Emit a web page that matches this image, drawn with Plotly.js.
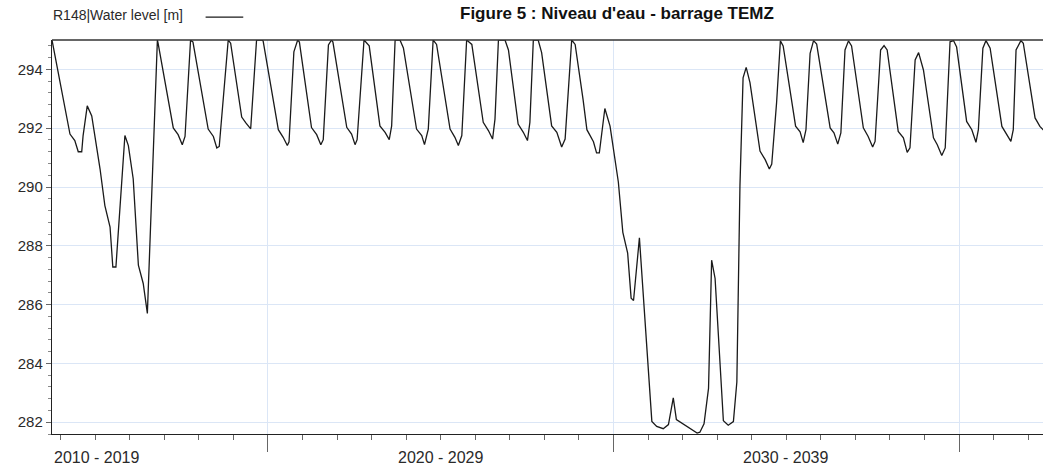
<!DOCTYPE html>
<html>
<head>
<meta charset="utf-8">
<script src="https://cdn.plot.ly/plotly-3.0.1.min.js"></script>
<style>
  html, body { margin: 0; padding: 0; background: #ffffff; overflow: hidden; }
  #chart { width: 1043px; height: 466px; }
</style>
</head>
<body>
<div id="chart"></div>
<script>
// ---- data (decimal year, water level in m) ----
const years = [
  2013.75, 2014.27, 2014.41, 2014.51, 2014.61, 2014.65, 2014.77, 2014.90, 2015.14, 2015.28, 2015.43, 2015.51, 2015.60, 2015.86, 2015.96, 2016.10, 2016.25, 2016.39, 2016.51, 2016.80,
  2016.82, 2017.26, 2017.40, 2017.52, 2017.60, 2017.76,
  2017.83, 2018.27, 2018.42, 2018.52, 2018.59, 2018.85,
  2018.92, 2019.24, 2019.36, 2019.50, 2019.67,
  2019.82, 2019.86, 2020.30, 2020.44, 2020.56, 2020.61, 2020.75, 2020.86,
  2020.91, 2021.26, 2021.41, 2021.53, 2021.60, 2021.75, 2021.84,
  2021.88, 2022.28, 2022.42, 2022.52, 2022.58, 2022.78,
  2022.93, 2023.24, 2023.39, 2023.51, 2023.58, 2023.68, 2023.82,
  2023.92, 2024.30, 2024.45, 2024.53, 2024.64, 2024.78,
  2024.88, 2025.27, 2025.41, 2025.51, 2025.61, 2025.75,
  2025.90, 2026.23, 2026.38, 2026.50, 2026.57, 2026.67, 2026.86,
  2026.96, 2027.24, 2027.39, 2027.51, 2027.58, 2027.68, 2027.82,
  2027.92, 2028.21, 2028.36, 2028.50, 2028.60, 2028.79,
  2028.89, 2029.12, 2029.23, 2029.42, 2029.51, 2029.59, 2029.75, 2029.90, 2030.14, 2030.27, 2030.41, 2030.51, 2030.58, 2030.75, 2030.91,
  2031.11, 2031.25, 2031.44, 2031.59, 2031.73, 2031.82, 2031.97, 2032.31, 2032.42, 2032.50, 2032.62, 2032.75, 2032.84, 2032.94,
  2033.18, 2033.32, 2033.47, 2033.57, 2033.66, 2033.75, 2033.84, 2033.95, 2034.24, 2034.39, 2034.51, 2034.58, 2034.72, 2034.83,
  2034.91, 2035.27, 2035.40, 2035.49, 2035.57, 2035.69, 2035.79,
  2035.88, 2036.27, 2036.38, 2036.49, 2036.58, 2036.70, 2036.80,
  2036.89, 2037.23, 2037.37, 2037.50, 2037.57, 2037.73, 2037.83,
  2037.92, 2038.24, 2038.39, 2038.50, 2038.58, 2038.73, 2038.83,
  2038.97, 2039.26, 2039.37, 2039.50, 2039.60, 2039.74, 2039.84,
  2039.93, 2040.22, 2040.37, 2040.49, 2040.56, 2040.69, 2040.78,
  2040.90, 2041.24, 2041.36, 2041.50, 2041.57, 2041.65, 2041.79,
  2041.86, 2042.20, 2042.34, 2042.49
];
const levels = [
  295.00, 291.80, 291.58, 291.20, 291.20, 291.75, 292.76, 292.42, 290.62, 289.37, 288.64, 287.28, 287.28, 291.75, 291.41, 290.28, 287.34, 286.72, 285.70, 295.00,
  294.89, 292.01, 291.78, 291.44, 291.72, 295.00,
  294.93, 291.97, 291.72, 291.33, 291.38, 295.00,
  294.89, 292.38, 292.18, 291.98, 295.00,
  295.00, 294.97, 291.95, 291.69, 291.41, 291.54, 294.60, 295.00,
  294.93, 292.02, 291.78, 291.44, 291.61, 294.83, 295.00,
  294.93, 292.03, 291.80, 291.44, 291.61, 295.00,
  294.80, 292.08, 291.86, 291.61, 292.08, 295.00, 295.00,
  294.73, 291.97, 291.75, 291.44, 291.97, 295.00,
  294.85, 291.97, 291.69, 291.41, 291.75, 295.00,
  294.85, 292.20, 291.92, 291.63, 292.31, 295.00, 295.00,
  294.66, 292.14, 291.86, 291.58, 292.20, 295.00, 295.00,
  294.57, 292.08, 291.86, 291.36, 291.63, 295.00,
  294.85, 292.97, 291.95, 291.54, 291.16, 291.16, 292.67, 292.07, 290.17, 288.46, 287.75, 286.22, 286.14, 288.27, 285.34,
  282.03, 281.86, 281.78, 281.92, 282.83, 282.09, 281.97, 281.69, 281.63, 281.66, 281.95, 283.15, 287.51, 286.89,
  282.05, 281.90, 282.02, 283.37, 290.05, 293.71, 294.07, 293.55, 291.22, 290.93, 290.61, 290.78, 292.87, 294.97,
  294.80, 292.07, 291.88, 291.51, 291.95, 294.55, 294.98,
  294.86, 292.01, 291.84, 291.46, 291.84, 294.66, 294.97,
  294.80, 292.01, 291.72, 291.36, 291.55, 294.66, 294.81,
  294.66, 291.89, 291.67, 291.18, 291.33, 294.32, 294.57,
  293.98, 291.67, 291.44, 291.07, 291.33, 294.94, 294.98,
  294.76, 292.23, 291.95, 291.52, 291.95, 294.72, 294.98,
  294.72, 292.06, 291.84, 291.55, 291.95, 294.66, 294.98,
  294.89, 292.35, 292.06, 291.88
];
const seriesName = 'R148|Water level [m]';
const chartTitle = "Figure 5 : Niveau d'eau - barrage TEMZ";
const decadeLabels = ['2010 - 2019', '2020 - 2029', '2030 - 2039'];
const decadeStarts = [2010, 2020, 2030];
const decadeBounds = [2020, 2030, 2040];
const yTicks = [282, 284, 286, 288, 290, 292, 294];

const xMin = 2013.75, xMax = 2042.43;
const yMin = 281.6, yMax = 295;

const font = 'Arial, "Liberation Sans", Helvetica, sans-serif';
const gridBlue = '#dbe6f6';

const annotations = decadeLabels.map((t, i) => {
  const first = decadeStarts[i] < xMin;
  return {
    text: t, xref: 'x', yref: 'paper',
    x: first ? xMin : decadeStarts[i] + 5, y: 0,
    xanchor: first ? 'left' : 'center', yanchor: 'top',
    yshift: -13, showarrow: false,
    font: { family: font, size: 16, color: '#2a2a2a' }
  };
});
annotations.push({
  text: seriesName, xref: 'paper', yref: 'paper', x: 0, y: 1,
  xanchor: 'left', yanchor: 'bottom', yshift: 15, xshift: -1, showarrow: false,
  font: { family: font, size: 14, color: '#2a2a2a' }
});
// chart title drawn as a paper annotation so it sits fully inside the page
annotations.push({
  text: '<b>' + chartTitle + '</b>', xref: 'paper', yref: 'paper',
  x: 0.57, y: 1, xanchor: 'center', yanchor: 'top', yshift: 38, showarrow: false,
  font: { family: font, size: 17, color: '#111' }
});

const data = [{
  type: 'scatter', mode: 'lines', name: seriesName,
  x: years, y: levels,
  line: { color: '#1a1a1a', width: 1.3 },
  hoverinfo: 'x+y'
}];

const layout = {
  width: 1043, height: 466,
  margin: { l: 52, r: 0, t: 40, b: 32, pad: 0 },
  paper_bgcolor: '#ffffff', plot_bgcolor: '#ffffff',
  showlegend: false,
  xaxis: {
    range: [xMin, xMax], type: 'linear',
    tickmode: 'array', tickvals: decadeBounds, ticktext: decadeBounds.map(() => ''),
    ticks: 'outside', ticklen: 17, tickwidth: 1, tickcolor: '#666',
    showgrid: true, gridcolor: gridBlue, gridwidth: 1,
    showline: true, linecolor: '#222', linewidth: 1.2,
    zeroline: false,
    minor: { dtick: 1, tick0: 2010, ticks: 'outside', ticklen: 5, tickcolor: '#666', showgrid: false },
    fixedrange: true
  },
  yaxis: {
    range: [yMin, yMax], type: 'linear',
    tickmode: 'array', tickvals: yTicks,
    ticks: 'outside', ticklen: 5, tickwidth: 1, tickcolor: '#666',
    tickfont: { family: font, size: 15, color: '#2a2a2a' },
    showgrid: true, gridcolor: gridBlue, gridwidth: 1,
    showline: true, linecolor: '#222', linewidth: 1.2,
    zeroline: false,
    minor: { dtick: 0.4, tick0: 282, ticks: 'outside', ticklen: 3, tickcolor: '#888', showgrid: false },
    fixedrange: true
  },
  shapes: [
    { type: 'line', xref: 'paper', yref: 'paper', x0: 0, x1: 1, y0: 1, y1: 1,
      line: { color: '#333', width: 1.3 } },
    { type: 'line', xref: 'paper', yref: 'paper', x0: 0.155, x1: 0.193, y0: 1.058, y1: 1.058,
      line: { color: '#1a1a1a', width: 1.3 } }
  ],
  annotations: annotations
};

Plotly.newPlot('chart', data, layout, { displayModeBar: false, staticPlot: true });
</script>
</body>
</html>
